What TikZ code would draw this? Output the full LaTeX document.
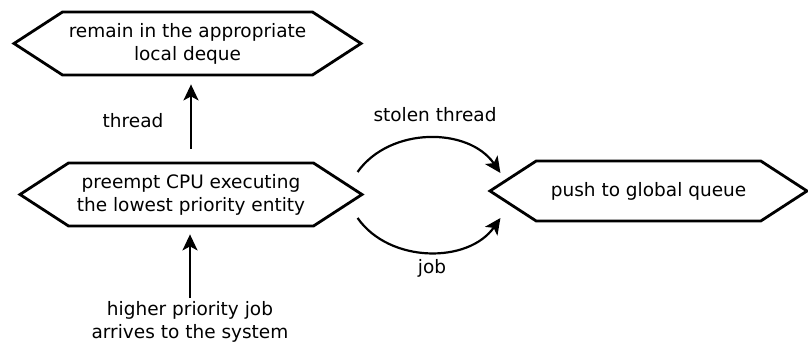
\documentclass[tikz,border=0pt]{standalone}
\usepackage{fontspec}
\setmainfont{DejaVu Sans}
\usetikzlibrary{shapes.symbols,arrows.meta}
\begin{document}
\begin{tikzpicture}[x=1pt,y=1pt,font=\fontsize{18.5}{23}\selectfont,
	hexbox/.style={shape=signal,signal to=west and east,signal pointer angle=66,draw,line width=2.8pt,align=center,inner sep=0pt},
	flow/.style={-{Stealth[length=16pt,width=15pt,inset=4pt]},line width=2.2pt}]
	\useasboundingbox (0,0) rectangle (808,352);
	\node[hexbox,minimum width=347pt,minimum height=63pt] (remain) at (187.5,308.5) {remain in the appropriate\\local deque};
	\node[hexbox,minimum width=342pt,minimum height=63pt] (preempt) at (191,157.5) {preempt CPU executing\\the lowest priority entity};
	\node[hexbox,minimum width=317pt,minimum height=60pt] (push) at (648.5,161) {push to global queue};
	\node[align=center] (arrives) at (190,30) {higher priority job\\arrives to the system};
	\node (thr) at (133,231) {thread};
	\node (stolen) at (435,237) {stolen thread};
	\node (job) at (432,84) {job};
	\draw[flow,shorten <=13pt,shorten >=8pt] (preempt.north) -- (preempt.north |- remain.south);
	\draw[flow,shorten >=7pt] (arrives.north) -- (arrives.north |- preempt.south);
	\draw[flow] ([shift={(-7,22.5)}]preempt.east) to[bend left=55] ([shift={(13,18)}]push.west);
	\draw[flow] ([shift={(-7,-23.5)}]preempt.east) to[bend right=55] ([shift={(13,-27)}]push.west);
\end{tikzpicture}
\end{document}
